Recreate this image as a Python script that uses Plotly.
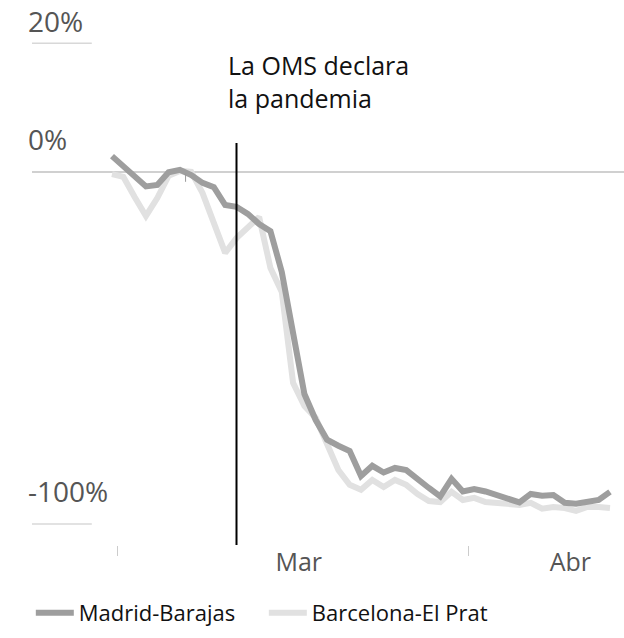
import pandas as pd
import plotly.graph_objects as go

# ---- data (daily % change vs. previous year) ----
START = "2020-02-29 12:00"
N_DAYS = 45
madrid = [4.5, 1.8, -1.1, -4.1, -3.7, -0.1, 0.6, -0.9, -3.1, -4.3,
          -9.4, -9.9, -11.9, -14.8, -16.8, -28.4, -45.8, -63.1, -70.5, -76.1,
          -77.8, -79.3, -86.4, -83.5, -85.4, -84.1, -84.7, -87.5, -89.8, -92.2,
          -87.2, -90.8, -90.1, -90.8, -91.8, -92.6, -93.9, -91.5, -92.0, -91.8,
          -94.0, -94.3, -93.6, -93.2, -90.9]
barcelona = [-0.6, -1.4, -7.1, -12.5, -7.4, -1.1, 0.3, 0.0, -6.0, -15.1,
             -23.0, -18.8, -15.6, -12.8, -27.3, -34.1, -59.9, -66.5, -69.9, -77.6,
             -84.7, -88.9, -90.3, -87.5, -89.5, -87.5, -88.9, -91.5, -93.5, -93.8,
             -90.9, -93.2, -92.6, -93.8, -94.0, -94.3, -94.6, -94.0, -95.7, -95.2,
             -95.5, -96.3, -95.2, -95.2, -95.5]
series_names = ["Madrid-Barajas", "Barcelona-El Prat"]

y_tick_vals = [33.6, 0, -100]
y_tick_text = ["20%", "0%", "-100%"]
short_grid_vals = [36.6, -100]

month_ticks = ["2020-03-01", "2020-04-01"]
month_label_pos = ["2020-03-17", "2020-04-10"]
month_labels = ["Mar", "Abr"]

event_date = "2020-03-11 12:00"
event_text = "La OMS declara<br>la pandemia"

dates = pd.date_range(START, periods=N_DAYS, freq="D")

FONT = "Open Sans"
fig = go.Figure()
fig.add_trace(go.Scatter(x=dates, y=barcelona, name=series_names[1], mode="lines",
                         line=dict(color="#e1e1e1", width=6), legendrank=2))
fig.add_trace(go.Scatter(x=dates, y=madrid, name=series_names[0], mode="lines",
                         line=dict(color="#9e9e9e", width=6), legendrank=1))

t0 = pd.Timestamp(START)
px_per_day = 11.318
x_range = [t0 - pd.Timedelta(days=80 / px_per_day), t0 + pd.Timedelta(days=512 / px_per_day)]

fig.update_layout(
    width=624, height=638,
    margin=dict(l=32, r=0, t=0, b=93),
    plot_bgcolor="white", paper_bgcolor="white",
    font=dict(family=FONT, color="#555"),
    showlegend=True,
    legend=dict(orientation="h", x=-0.002, xanchor="left", y=-0.086, yanchor="top",
                font=dict(size=22, color="#111", family=FONT),
                itemwidth=38, entrywidth=180, traceorder="normal"),
    xaxis=dict(type="date", range=x_range, showgrid=False, zeroline=False, showline=False,
               tickvals=month_label_pos, ticktext=month_labels, ticks="",
               tickfont=dict(size=25, color="#555"),
               minor=dict(tickvals=month_ticks, ticks="outside", ticklen=10,
                          tickcolor="#cccccc", tickwidth=1),
               fixedrange=True),
    yaxis=dict(range=[-106.0, 48.86], showgrid=False,
               zeroline=True, zerolinecolor="#d0d0d0", zerolinewidth=1.5,
               tickvals=y_tick_vals, ticktext=y_tick_text, ticks="",
               ticklabelposition="inside", ticklabelshift=-32, ticklabelstandoff=-7,
               tickfont=dict(size=28, color="#555"), fixedrange=True),
)

# short gridlines for 20% and -100%
for v in short_grid_vals:
    fig.add_shape(type="line", xref="x domain", yref="y", x0=0, x1=0.101, y0=v, y1=v,
                  line=dict(color="#d8d8d8", width=1.5))

# small mark under the zero line
fig.add_shape(type="line", xref="x", yref="y", x0="2020-03-07", x1="2020-03-07",
              y0=-0.5, y1=-2.8, line=dict(color="#999", width=1))

# event line
fig.add_shape(type="line", xref="x", yref="y", x0=event_date, x1=event_date,
              y0=8.2, y1=-106.0, line=dict(color="black", width=2))
fig.add_annotation(x=event_date, y=25.8, xref="x", yref="y", text=event_text,
                   showarrow=False, xanchor="left", yanchor="middle", align="left",
                   xshift=-11, font=dict(size=25, color="#111", family=FONT))

fig.write_html("out.html", config={"displayModeBar": False},
               post_script="document.body.style.margin='0';")
